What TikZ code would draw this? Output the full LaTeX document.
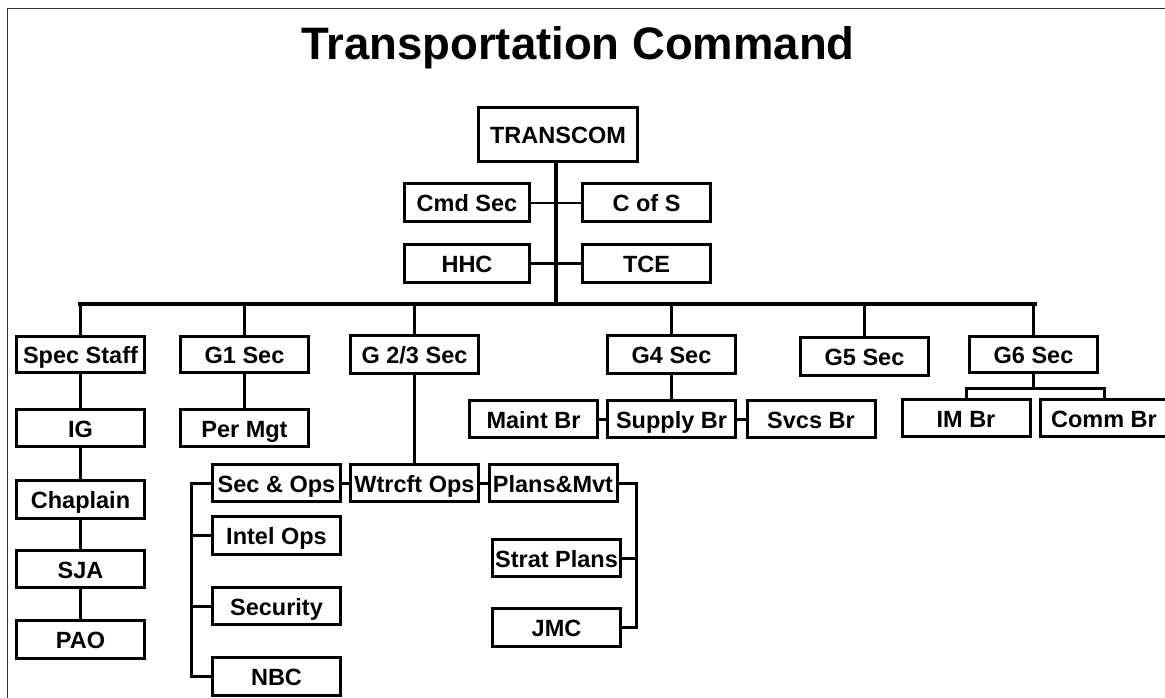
\documentclass[tikz,border=0pt]{standalone}
\usepackage{fontspec}
\setmainfont{Liberation Sans}
\usetikzlibrary{positioning, calc}

\begin{document}
\begin{tikzpicture}[
    x=1pt, y=-1pt,
    unit/.style={rectangle, draw=black, line width=3pt, minimum width=128pt, minimum height=37pt, inner sep=0pt, text height=20pt, text depth=2pt, align=center, font=\fontsize{23.5}{26}\selectfont\bfseries},
    link/.style={line width=3pt},
    thinlink/.style={line width=2pt},
    trunk/.style={line width=4pt}
]
\useasboundingbox (0,0) rectangle (1165,698);
\fill[white] (0,0) rectangle (1165,698);

% Frame
\draw[line width=1pt, draw=black!80] (7,9) rectangle (1185,720);

% Title
\node[anchor=base, font=\fontsize{45.5}{50}\selectfont\bfseries] (title) at (578,60) {Transportation Command};

% Command group
\node[unit, minimum width=159pt, minimum height=54pt] (transcom) at (558,134.5) {TRANSCOM};
\node[unit, minimum width=125pt, minimum height=38pt] (cmdsec) at (467,202.5) {Cmd Sec};
\node[unit, minimum height=38pt] (cofs) at (646.5,202.5) {C of S};
\node[unit, minimum width=125pt, minimum height=38pt] (hhc) at (467,263.5) {HHC};
\node[unit, minimum height=38pt] (tce) at (646.5,263.5) {TCE};

% Staff sections
\node[unit, minimum height=36pt] (specstaff) at (80.5,354) {Spec Staff};
\node[unit, minimum height=36pt] (gone) at (244.5,354) {G1 Sec};
\node[unit, minimum height=38pt] (gtwothree) at (414.5,354.5) {G 2/3 Sec};
\node[unit, minimum height=38pt] (gfour) at (671.5,354.5) {G4 Sec};
\node[unit, minimum height=38pt] (gfive) at (864.5,356.5) {G5 Sec};
\node[unit, minimum height=36pt] (gsix) at (1033.5,354) {G6 Sec};

% Special staff
\node[unit] (ig) at (80.5,428) {IG};
\node[unit, minimum height=38pt] (chaplain) at (80.5,499.5) {Chaplain};
\node[unit] (sja) at (80.5,569) {SJA};
\node[unit, minimum height=38pt] (pao) at (80.5,639.5) {PAO};

% G1
\node[unit] (permgt) at (244.5,428) {Per Mgt};

% G 2/3
\node[unit] (secops) at (276.5,483) {Sec \& Ops};
\node[unit] (wtrcft) at (414.5,483) {Wtrcft Ops};
\node[unit] (plansmvt) at (553,483) {Plans\&Mvt};
\node[unit, minimum height=38pt] (intelops) at (276.5,535.5) {Intel Ops};
\node[unit] (security) at (276.5,606) {Security};
\node[unit, minimum height=38pt] (nbc) at (276.5,676.5) {NBC};
\node[unit] (stratplans) at (556.5,558) {Strat Plans};
\node[unit, minimum height=38pt] (jmc) at (556.5,627.5) {JMC};

% G4
\node[unit] (maintbr) at (533.5,419) {Maint Br};
\node[unit] (supplybr) at (671.5,419) {Supply Br};
\node[unit] (svcsbr) at (811,419) {Svcs Br};

% G6
\node[unit] (imbr) at (966,418) {IM Br};
\node[unit] (commbr) at (1104,418) {Comm Br};

% Bus and trunk
\coordinate (trunkpt) at (556,304);
\coordinate (busl) at (78,304);
\coordinate (busr) at (1037,304);
\draw[trunk] (transcom.south -| trunkpt) -- (trunkpt);
\draw[trunk] (busl) -- (busr);
\draw[thinlink] (cmdsec.east) -- (cofs.west);
\draw[link] (hhc.east) -- (tce.west);
\foreach \n in {specstaff, gone, gtwothree, gfour, gfive, gsix}
    \draw[link] (\n.north |- busl) -- (\n.north);

% Chains
\draw[link] (specstaff) -- (ig);
\draw[link] (ig) -- (chaplain);
\draw[link] (chaplain) -- (sja);
\draw[link] (sja) -- (pao);
\draw[link] (gone) -- (permgt);
\draw[link] (gtwothree) -- (wtrcft);
\draw[link] (secops) -- (wtrcft);
\draw[link] (wtrcft) -- (plansmvt);
\draw[link] (gfour) -- (supplybr);
\draw[link] (maintbr) -- (supplybr);
\draw[link] (supplybr) -- (svcsbr);

% Brackets
\coordinate (secbar) at (191,0);
\coordinate (planbar) at (636,0);
\coordinate (sixbar) at (0,388);
\draw[link] (secops.west) -| (secbar |- nbc.west) -- (nbc.west);
\foreach \n in {intelops, security}
    \draw[link] (\n.west) -- (\n.west -| secbar);
\draw[link] (plansmvt.east) -| (planbar |- jmc.east) -- (jmc.east);
\draw[link] (stratplans.east) -- (stratplans.east -| planbar);
\draw[link] (gsix.south) -- (gsix.south |- sixbar);
\draw[link] (imbr.north) |- (commbr.north |- sixbar) -- (commbr.north);

\end{tikzpicture}
\end{document}
